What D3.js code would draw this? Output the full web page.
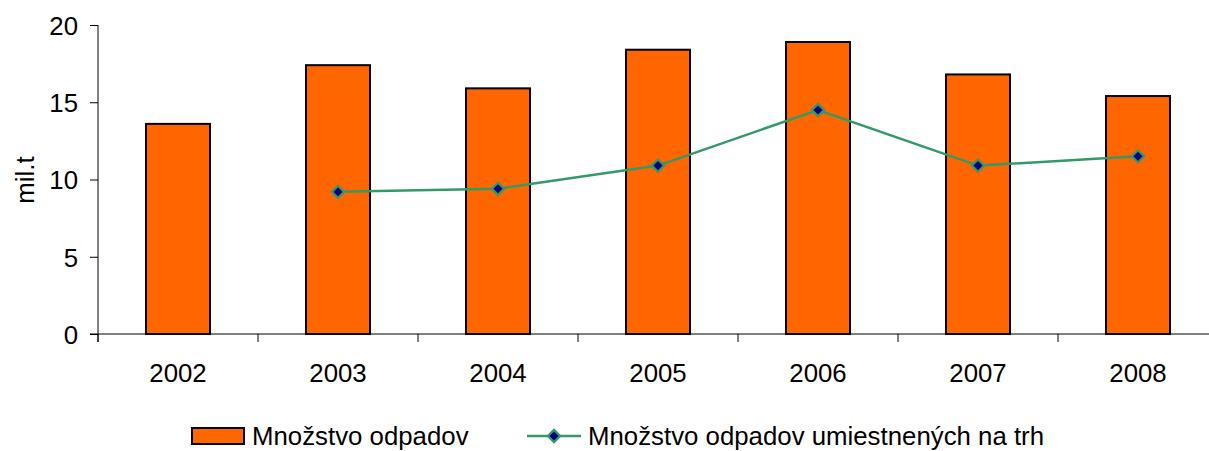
<!DOCTYPE html>
<html>
<head>
<meta charset="utf-8">
<script src="https://cdn.jsdelivr.net/npm/d3@7"></script>
<style>
body{margin:0;background:#fff;}
text{font-family:"Liberation Sans",Arial,sans-serif;fill:#000;}
.axis path,.axis line{stroke:#000;stroke-width:1;}
</style>
</head>
<body>
<div id="chart"></div>
<script>
var years=["2002","2003","2004","2005","2006","2007","2008"];
var waste=[13.6,17.4,15.9,18.4,18.9,16.8,15.4];
var placed=[null,9.2,9.4,10.9,14.5,10.9,11.5];
var yTicks=[0,5,10,15,20];
var seriesNames=["Množstvo odpadov","Množstvo odpadov umiestnených na trh"];

var W=1209,H=451,fs='25.8px';
var margin={top:25,left:98,bottom:117,right:-9};
var width=W-margin.left-margin.right,height=H-margin.top-margin.bottom;

var svg=d3.select('#chart').append('svg')
	.attr('width',W).attr('height',H);
var g=svg.append('g').attr('transform','translate('+margin.left+','+margin.top+')');

var x=d3.scaleBand().domain(years).range([0,width]).paddingInner(0.6).paddingOuter(0.3);
var xb=d3.scaleBand().domain(years).range([0,width]);
var y=d3.scaleLinear().domain([0,20]).range([height,0]);

// y axis
var yAxis=d3.axisLeft(y).tickValues(yTicks).tickSize(8).tickPadding(12);
var ya=g.append('g').attr('class','axis').call(yAxis);
ya.select('.domain').attr('d','M0,0V'+(height+8));
ya.selectAll('text').style('font-size',fs).attr('dy','0.36em');

// bars
g.selectAll('.bar').data(waste).enter().append('rect')
	.attr('class','bar')
	.attr('x',function(d,i){return x(years[i])})
	.attr('y',function(d){return y(d)})
	.attr('width',x.bandwidth())
	.attr('height',function(d){return height-y(d)})
	.attr('fill','#FF6600').attr('stroke','#000').attr('stroke-width',2);

// x axis
var xa=g.append('g').attr('class','axis').attr('transform','translate(0,'+height+')');
xa.append('line').attr('x1',-8).attr('x2',width).attr('y1',0).attr('y2',0);
xa.selectAll('.tk').data(years).enter().append('line')
	.attr('x1',function(d){return xb(d)}).attr('x2',function(d){return xb(d)})
	.attr('y1',0).attr('y2',8);
xa.selectAll('.lbl').data(years).enter().append('text')
	.attr('x',function(d){return xb(d)+xb.bandwidth()/2})
	.attr('y',48).attr('text-anchor','middle').style('font-size',fs)
	.text(function(d){return d});

// line
var pts=placed.map(function(v,i){return {k:years[i],v:v}}).filter(function(d){return d.v!==null});
var line=d3.line().x(function(d){return xb(d.k)+xb.bandwidth()/2}).y(function(d){return y(d.v)});
g.append('path').datum(pts).attr('d',line)
	.attr('fill','none').attr('stroke','#339966').attr('stroke-width',2.5);
var diamond=d3.symbol().type(d3.symbolDiamond2).size(95);
g.selectAll('.pt').data(pts).enter().append('path')
	.attr('d',diamond)
	.attr('transform',function(d){return 'translate('+(xb(d.k)+xb.bandwidth()/2)+','+y(d.v)+')'})
	.attr('fill','#000080').attr('stroke','#339966').attr('stroke-width',2.2);

// y label
svg.append('text').attr('transform','translate(34,180) rotate(-90)')
	.attr('text-anchor','middle').style('font-size',fs).text('mil.t');

// legend
var lg=svg.append('g');
lg.append('rect').attr('x',192).attr('y',428).attr('width',52).attr('height',16)
	.attr('fill','#FF6600').attr('stroke','#000').attr('stroke-width',2);
lg.append('text').attr('x',252).attr('y',445).style('font-size',fs).text(seriesNames[0]);
lg.append('line').attr('x1',527).attr('x2',581).attr('y1',436).attr('y2',436)
	.attr('stroke','#339966').attr('stroke-width',2.5);
lg.append('path').attr('d',diamond).attr('transform','translate(554,436)')
	.attr('fill','#000080').attr('stroke','#339966').attr('stroke-width',2.2);
lg.append('text').attr('x',588).attr('y',445).style('font-size',fs).text(seriesNames[1]);
</script>
</body>
</html>
